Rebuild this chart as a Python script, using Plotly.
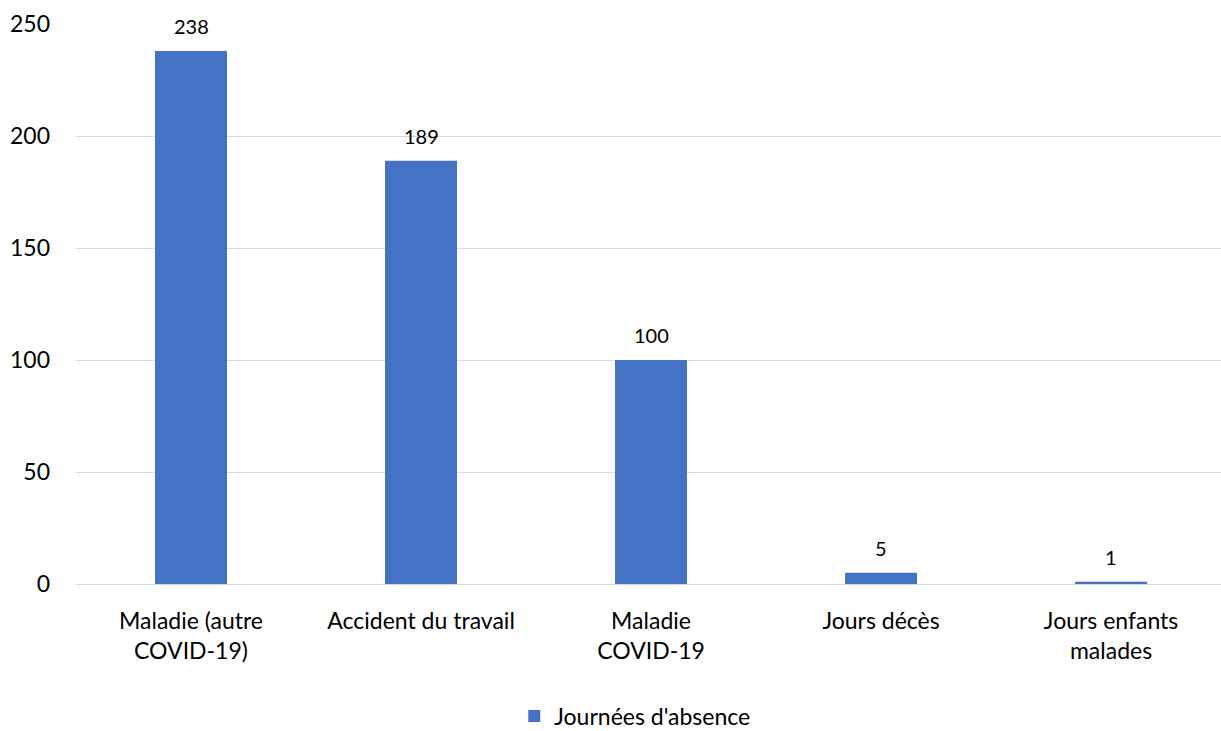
import plotly.graph_objects as go

categories = ["Maladie (autre<br>COVID-19)", "Accident du travail", "Maladie<br>COVID-19",
              "Jours décès", "Jours enfants<br>malades"]
values = [238, 189, 100, 5, 1]
series_name = "Journées d'absence"
y_ticks = [0, 50, 100, 150, 200, 250]

BLUE = "#4472C4"
FONT = "Lato, Calibri, Carlito, sans-serif"

fig = go.Figure()
fig.add_trace(go.Bar(
    x=categories, y=values, name=series_name,
    marker=dict(color=BLUE, line=dict(width=0)),
    width=0.313,
))

# value labels above each bar
for c, v in zip(categories, values):
    fig.add_annotation(x=c, y=v, text=str(v), showarrow=False,
                       yanchor="bottom", yshift=11,
                       font=dict(family=FONT, size=20, color="#000000"))

fig.update_layout(
    width=1221, height=731,
    margin=dict(l=76, r=0, t=24, b=147, autoexpand=False),
    paper_bgcolor="white", plot_bgcolor="white",
    font=dict(family=FONT, size=23, color="#000000"),
    showlegend=True,
    legend=dict(orientation="h", x=0.488, xanchor="center", y=-0.236, yanchor="middle",
                yref="paper", font=dict(size=23), itemwidth=30),
    bargap=0.69,
)
fig.update_xaxes(range=[-0.5, 4.478], showline=False, ticks="", ticklabelstandoff=21,
                 tickfont=dict(size=23), automargin=False)
fig.update_yaxes(range=[0, 250], tickvals=y_ticks, showgrid=True, gridcolor="#D9D9D9",
                 gridwidth=1, zeroline=True, zerolinecolor="#D9D9D9", zerolinewidth=1,
                 showline=False, ticks="", ticklabelstandoff=25, tickfont=dict(size=23),
                 automargin=False)

fig.write_html("out.html")
